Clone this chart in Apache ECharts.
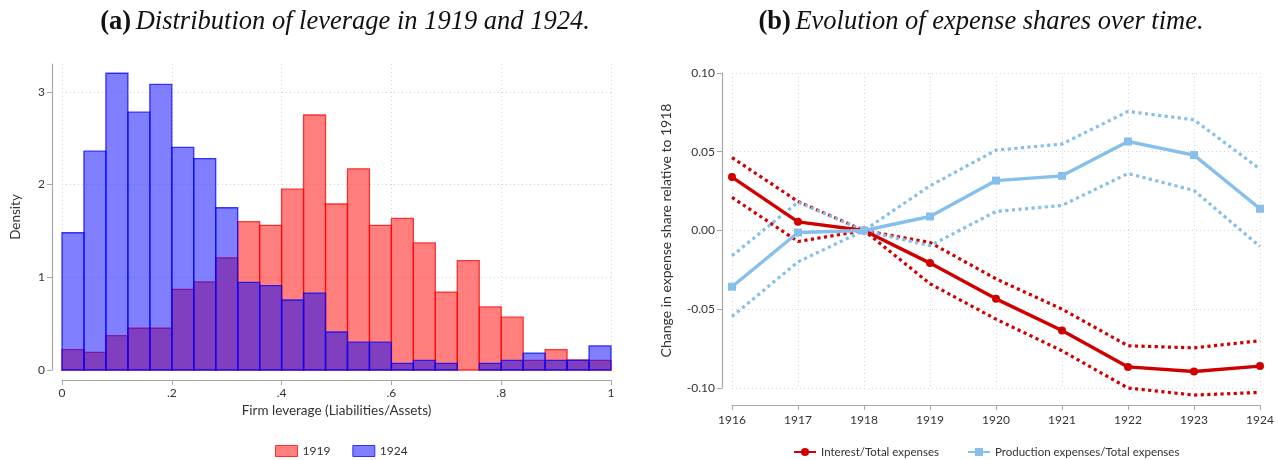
<!DOCTYPE html>
<html>
<head>
<meta charset="utf-8">
<script src="https://cdn.jsdelivr.net/npm/echarts@6.0.0/dist/echarts.min.js"></script>
<style>
  html, body { margin: 0; padding: 0; background: #fff; }
  #main { width: 1278px; height: 460px; }
</style>
</head>
<body>
<div id="main"></div>
<script>
// (a) histogram: 25 bins of width 0.04 on [0, 1]
var binWidth = 0.04;
var density1919 = [0.22, 0.19, 0.37, 0.45, 0.45, 0.87, 0.95, 1.21, 1.60, 1.56, 1.95, 2.75, 1.79,
                   2.17, 1.56, 1.635, 1.37, 0.84, 1.18, 0.68, 0.57, 0.104, 0.22, 0.11, 0.104];
var density1924 = [1.48, 2.36, 3.20, 2.78, 3.08, 2.40, 2.28, 1.75, 0.945, 0.91, 0.755, 0.83, 0.41,
                   0.30, 0.30, 0.072, 0.104, 0.072, 0, 0.072, 0.104, 0.183, 0.104, 0.104, 0.26];

// (b) event-study coefficients and confidence bands
var years = ['1916', '1917', '1918', '1919', '1920', '1921', '1922', '1923', '1924'];
var interest    = [0.0339, 0.0055, 0, -0.0207, -0.0434, -0.0635, -0.0866, -0.0895, -0.0861];
var interestHi  = [0.0463, 0.0184, 0, -0.0076, -0.0307, -0.0499, -0.0732, -0.0745, -0.0700];
var interestLo  = [0.0210, -0.0070, 0, -0.0338, -0.0563, -0.0764, -0.1000, -0.1045, -0.1028];
var production   = [-0.0357, -0.0013, 0, 0.0089, 0.0317, 0.0347, 0.0565, 0.0479, 0.0138];
var productionHi = [-0.0161, 0.0180, 0, 0.0284, 0.0510, 0.0549, 0.0756, 0.0703, 0.0390];
var productionLo = [-0.0546, -0.0199, 0, -0.0097, 0.0121, 0.0159, 0.0362, 0.0254, -0.0102];

var RED = '#d00000', BLUE = '#86c0ea';
var FONT = 'Lato';
var axisGrey = '#a8a8a8';
var gridLine = { show: true, lineStyle: { color: '#d4d4d4', type: [1, 3], width: 1 } };

function binData(dens) {
  var res = [];
  for (var i = 0; i < dens.length; i++) {
    if (dens[i] > 0) res.push([i * binWidth, (i + 1) * binWidth, dens[i]]);
  }
  return res;
}

function barRenderer(fill, stroke) {
  return function (params, api) {
    var p0 = api.coord([api.value(0), api.value(2)]);
    var p1 = api.coord([api.value(1), 0]);
    return {
      type: 'rect',
      shape: { x: p0[0], y: p0[1], width: p1[0] - p0[0], height: p1[1] - p0[1] },
      style: { fill: fill, stroke: stroke, lineWidth: 1.3 }
    };
  };
}

function dotted(name, data, color) {
  return {
    type: 'line', name: name, xAxisIndex: 1, yAxisIndex: 1,
    data: data, symbol: 'none', clip: false, silent: true,
    lineStyle: { color: color, width: 3.2, type: [3.2, 3.4], cap: 'butt' },
    z: 3
  };
}

function panelTitle(x, tag, text) {
  return {
    left: x, top: 4, textAlign: 'center',
    text: '{b|' + tag + '} {i|' + text + '}',
    textStyle: { fontWeight: 'normal', rich: {
      b: { fontFamily: 'Liberation Serif', fontWeight: 'bold', fontSize: 26.5, color: '#111' },
      i: { fontFamily: 'Liberation Serif', fontWeight: 'normal', fontStyle: 'italic', fontSize: 26.5, color: '#111' }
    } }
  };
}

var chart = echarts.init(document.getElementById('main'));
chart.setOption({
  backgroundColor: '#fff',
  animation: false,
  textStyle: { fontFamily: FONT, color: '#333' },
  title: [
    panelTitle(340, '(a)', 'Distribution of leverage in 1919 and 1924.'),
    panelTitle(976, '(b)', 'Evolution of expense shares over time.')
  ],
  legend: [
    {
      left: 270, top: 440, itemWidth: 22, itemHeight: 11, itemGap: 22,
      textStyle: { fontFamily: FONT, fontSize: 12, color: '#333' },
      data: [
        { name: '1919', icon: 'rect', itemStyle: { color: 'rgba(255,0,0,0.5)', borderColor: 'rgba(255,0,0,0.75)', borderWidth: 1 } },
        { name: '1924', icon: 'rect', itemStyle: { color: 'rgba(0,0,255,0.5)', borderColor: 'rgba(0,0,255,0.75)', borderWidth: 1 } }
      ]
    },
    {
      left: 788, top: 441, itemWidth: 22, itemHeight: 10, itemGap: 28,
      textStyle: { fontFamily: FONT, fontSize: 11.5, color: '#333' },
      data: ['Interest/Total expenses', 'Production expenses/Total expenses']
    }
  ],
  grid: [
    { left: 62, width: 549, top: 64, bottom: 90 },
    { left: 732, right: 18, top: 73, bottom: 72 }
  ],
  xAxis: [
    {
      gridIndex: 0, type: 'value', min: 0, max: 1, interval: 0.2, offset: 10,
      name: 'Firm leverage (Liabilities/Assets)', nameLocation: 'middle', nameGap: 24,
      nameTextStyle: { fontFamily: FONT, fontSize: 13.5, color: '#333' },
      axisLine: { show: true, onZero: false, lineStyle: { color: axisGrey, width: 1.2 } },
      axisTick: { show: true, length: 5, lineStyle: { color: axisGrey } },
      axisLabel: { fontSize: 12, color: '#333', margin: 7, formatter: function (v) {
        var r = Math.round(v * 10) / 10;
        return r === 0 ? '0' : r === 1 ? '1' : String(r).replace('0.', '.');
      } },
      splitLine: gridLine
    },
    {
      gridIndex: 1, type: 'category', data: years, boundaryGap: false, offset: 17,
      axisLine: { show: true, onZero: false, lineStyle: { color: axisGrey, width: 1.2 } },
      axisTick: { show: true, length: 5, alignWithLabel: true, lineStyle: { color: axisGrey } },
      axisLabel: { fontSize: 12, color: '#333', margin: 9 },
      splitLine: gridLine
    }
  ],
  yAxis: [
    {
      gridIndex: 0, type: 'value', min: 0, max: 3.3, interval: 1, offset: 10,
      name: 'Density', nameLocation: 'middle', nameGap: 29,
      nameTextStyle: { fontFamily: FONT, fontSize: 13.5, color: '#333' },
      axisLine: { show: true, onZero: false, lineStyle: { color: axisGrey, width: 1.2 } },
      axisTick: { show: true, length: 5, lineStyle: { color: axisGrey } },
      axisLabel: { fontSize: 12, color: '#333', margin: 7, showMaxLabel: false },
      splitLine: { show: true, showMaxLine: false, lineStyle: gridLine.lineStyle }
    },
    {
      gridIndex: 1, type: 'value', min: -0.1, max: 0.1, interval: 0.05, offset: 10,
      name: 'Change in expense share relative to 1918', nameLocation: 'middle', nameGap: 49,
      nameTextStyle: { fontFamily: FONT, fontSize: 14, color: '#333' },
      axisLine: { show: true, onZero: false, lineStyle: { color: axisGrey, width: 1.2 } },
      axisTick: { show: true, length: 5, lineStyle: { color: axisGrey } },
      axisLabel: { fontSize: 12, color: '#333', margin: 7, formatter: function (v) {
        return (Math.round(v * 100) / 100).toFixed(2);
      } },
      splitLine: gridLine
    }
  ],
  series: [
    {
      type: 'custom', name: '1919', xAxisIndex: 0, yAxisIndex: 0,
      renderItem: barRenderer('rgba(255,0,0,0.5)', 'rgba(255,0,0,0.75)'),
      encode: { x: [0, 1], y: 2 },
      itemStyle: { color: 'rgba(255,0,0,0.5)' },
      data: binData(density1919), z: 2
    },
    {
      type: 'custom', name: '1924', xAxisIndex: 0, yAxisIndex: 0,
      renderItem: barRenderer('rgba(0,0,255,0.5)', 'rgba(0,0,255,0.75)'),
      encode: { x: [0, 1], y: 2 },
      itemStyle: { color: 'rgba(0,0,255,0.5)' },
      data: binData(density1924), z: 3
    },
    dotted('interestHi', interestHi, RED),
    dotted('interestLo', interestLo, RED),
    dotted('productionHi', productionHi, BLUE),
    dotted('productionLo', productionLo, BLUE),
    {
      type: 'line', name: 'Interest/Total expenses', xAxisIndex: 1, yAxisIndex: 1,
      data: interest, clip: false, symbol: 'circle', symbolSize: 8,
      itemStyle: { color: RED }, lineStyle: { color: RED, width: 3.4 }, z: 4
    },
    {
      type: 'line', name: 'Production expenses/Total expenses', xAxisIndex: 1, yAxisIndex: 1,
      data: production, clip: false, symbol: 'rect', symbolSize: 8,
      itemStyle: { color: BLUE }, lineStyle: { color: BLUE, width: 3.4 }, z: 4
    }
  ]
});
</script>
</body>
</html>
